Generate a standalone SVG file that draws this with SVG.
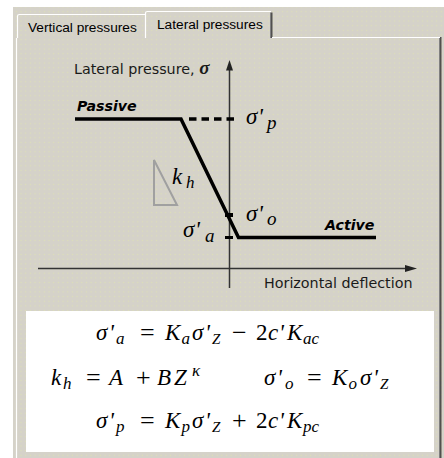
<svg xmlns="http://www.w3.org/2000/svg" width="444" height="458" viewBox="0 0 444 458">
  <defs>
    <pattern id="dots" width="4.67" height="4.67" patternUnits="userSpaceOnUse">
      <rect width="4.67" height="4.67" fill="#d5d2c9"/>
      <circle cx="2.3" cy="2.3" r="0.75" fill="#dcdeb8"/>
    </pattern>
    <style>
      .tab { font-family: "Liberation Sans", Arial, sans-serif; font-size: 13.7px; fill: #000; }
      .lbl { font-family: "DejaVu Sans", Verdana, sans-serif; font-size: 14.3px; fill: #1a1a1a; }
      .bold { font-family: "DejaVu Sans", Verdana, sans-serif; font-size: 14.2px; font-weight: bold; font-style: italic; fill: #000; }
      .m { font-family: "Liberation Serif", "Times New Roman", serif; font-style: italic; fill: #000; }
      .up { font-family: "Liberation Serif", "Times New Roman", serif; font-style: normal; fill: #000; }
      .axis { stroke: #333; stroke-width: 1.5; fill: none; }
      .curve { stroke: #000; stroke-width: 3.5; fill: none; stroke-linejoin: miter; }
    </style>
  </defs>

  <!-- window background -->
  <rect width="444" height="458" fill="#ffffff"/>
  <rect x="13" y="7" width="431" height="451" fill="url(#dots)"/>

  <!-- tabs -->
  <g id="tab-vertical">
    <path d="M17.5,38 V16 Q17.5,14.5 19.5,14.5 H146" stroke="#ffffff" stroke-width="1.2" fill="none"/>
    <text class="tab" x="28" y="32">Vertical pressures</text>
  </g>
  <g id="tab-lateral">
    <rect x="145" y="11" width="128" height="28" fill="url(#dots)"/>
    <path d="M145.5,38 V13 Q145.5,11.5 147.5,11.5 H271" stroke="#ffffff" stroke-width="1.2" fill="none"/>
    <line x1="270.5" y1="12.5" x2="270.5" y2="38" stroke="#808080" stroke-width="1"/>
    <line x1="271.8" y1="12.5" x2="271.8" y2="38" stroke="#303030" stroke-width="1.2"/>
    <text class="tab" x="157" y="28.5">Lateral pressures</text>
  </g>
  <g id="panel">
    <line x1="272" y1="37.5" x2="440" y2="37.5" stroke="#ffffff" stroke-width="1.2"/>
    <line x1="16.5" y1="38" x2="16.5" y2="458" stroke="#ffffff" stroke-width="1.2"/>
    <line x1="439.5" y1="38" x2="439.5" y2="458" stroke="#808080" stroke-width="1"/>
    <line x1="440.8" y1="37" x2="440.8" y2="458" stroke="#303030" stroke-width="1.2"/>
  </g>

  <!-- connectors: axes and pressure curve -->
  <g id="connectors">
    <line class="axis" x1="229.5" y1="68" x2="229.5" y2="288"/>
    <polygon points="229.5,60 226,70.5 233,70.5" fill="#222"/>
    <line class="axis" x1="38" y1="268.5" x2="408" y2="268.5"/>
    <polygon points="417,268.5 405,265 405,272" fill="#222"/>
    <path class="curve" d="M75,119 H181 L238.5,237.5 H376"/>
    <line x1="189" y1="119" x2="234" y2="119" stroke="#000" stroke-width="3.5" stroke-dasharray="7.5,5"/>
    <rect x="225" y="213" width="8" height="4" fill="#000"/>
    <rect x="225" y="236" width="8" height="3" fill="#000"/>
    <polygon points="154,160 154,205 177,205" fill="none" stroke="#a0a0a0" stroke-width="2"/>
  </g>

  <!-- labels -->
  <g id="axis-labels">
    <text class="lbl" x="74" y="74">Lateral pressure, <tspan font-family="'Liberation Serif', serif" font-weight="bold" font-style="italic" font-size="19">σ</tspan></text>
    <text class="lbl" x="264" y="288">Horizontal deflection</text>
  </g>
  <g id="label-passive">
    <text class="bold" x="77" y="111">Passive</text>
  </g>
  <g id="label-active">
    <text class="bold" x="325" y="230">Active</text>
  </g>
  <g id="label-sigma-p">
    <text class="m" font-size="23"><tspan x="246" y="123.5">σ</tspan><tspan x="258" y="123.5">'</tspan><tspan x="267" y="128.5" font-size="19">p</tspan></text>
  </g>
  <g id="label-kh">
    <text class="m" font-size="23"><tspan x="172" y="183.5">k</tspan><tspan x="186" y="188" font-size="17">h</tspan></text>
  </g>
  <g id="label-sigma-o">
    <text class="m" font-size="23"><tspan x="246" y="221">σ</tspan><tspan x="258" y="221">'</tspan><tspan x="267" y="225" font-size="19">o</tspan></text>
  </g>
  <g id="label-sigma-a">
    <text class="m" font-size="23"><tspan x="183" y="237">σ</tspan><tspan x="195" y="237">'</tspan><tspan x="205" y="242" font-size="19">a</tspan></text>
  </g>

  <!-- formula box -->
  <g id="formulas">
    <rect x="26" y="311" width="408" height="141" fill="#ffffff"/>
    <text class="m" font-size="23"><tspan x="96" y="340">σ</tspan><tspan x="109" y="340">'</tspan><tspan x="116" y="344" font-size="17">a</tspan><tspan class="up" x="140" y="341" font-size="26">=</tspan><tspan x="165" y="340">K</tspan><tspan x="181.5" y="344" font-size="17">a</tspan><tspan x="192" y="340">σ</tspan><tspan x="205" y="340">'</tspan><tspan x="212" y="344" font-size="15">Z</tspan><tspan class="up" x="232" y="341" font-size="26">−</tspan><tspan class="up" x="256" y="340">2</tspan><tspan x="268" y="340">c</tspan><tspan x="279" y="340">'</tspan><tspan x="287" y="340">K</tspan><tspan x="303" y="344" font-size="17">ac</tspan></text>
    <text class="m" font-size="23"><tspan x="51" y="385">k</tspan><tspan x="63" y="389" font-size="17">h</tspan><tspan class="up" x="86" y="386" font-size="26">=</tspan><tspan x="109" y="385">A</tspan><tspan class="up" x="136" y="386" font-size="26">+</tspan><tspan x="157" y="385">B</tspan><tspan x="174" y="385">Z</tspan><tspan x="192" y="376" font-size="17">κ</tspan><tspan x="264" y="385">σ</tspan><tspan x="277" y="385">'</tspan><tspan x="285" y="389" font-size="17">o</tspan><tspan class="up" x="307" y="386" font-size="26">=</tspan><tspan x="332" y="385">K</tspan><tspan x="348.5" y="389" font-size="17">o</tspan><tspan x="360" y="385">σ</tspan><tspan x="373" y="385">'</tspan><tspan x="380" y="389" font-size="15">Z</tspan></text>
    <text class="m" font-size="23"><tspan x="96" y="428">σ</tspan><tspan x="109" y="428">'</tspan><tspan x="116" y="432" font-size="17">p</tspan><tspan class="up" x="140" y="429" font-size="26">=</tspan><tspan x="165" y="428">K</tspan><tspan x="181.5" y="432" font-size="17">p</tspan><tspan x="192" y="428">σ</tspan><tspan x="205" y="428">'</tspan><tspan x="212" y="432" font-size="15">Z</tspan><tspan class="up" x="232" y="429" font-size="26">+</tspan><tspan class="up" x="256" y="428">2</tspan><tspan x="268" y="428">c</tspan><tspan x="279" y="428">'</tspan><tspan x="287" y="428">K</tspan><tspan x="303" y="432" font-size="17">pc</tspan></text>
  </g>
</svg>
